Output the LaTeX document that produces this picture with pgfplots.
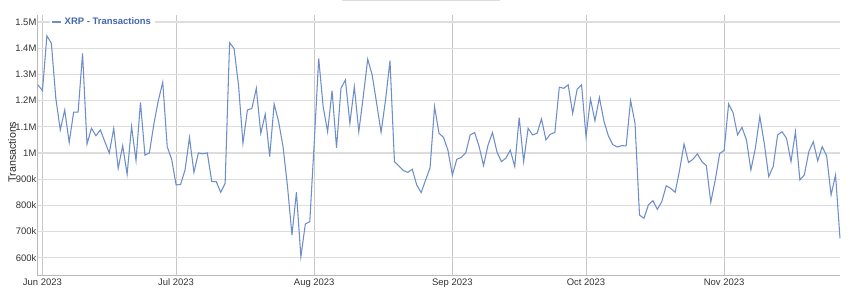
\documentclass[border=0pt]{standalone}
\usepackage{fontspec}
\setmainfont{Liberation Sans}
\usepackage{pgfplots}
\pgfplotsset{compat=1.18}
\definecolor{linecol}{RGB}{110,142,202}
\definecolor{legcol}{RGB}{66,103,178}
\definecolor{axisgray}{RGB}{185,185,185}
\definecolor{hgrid}{RGB}{221,221,221}
\definecolor{vgrid}{RGB}{200,200,200}
\begin{document}
\begin{tikzpicture}
\useasboundingbox (0,0) rectangle (637.5pt,216.75pt);
\draw[hgrid, line width=1.2pt] (256.5pt,216.3pt) -- (375pt,216.3pt);
\begin{axis}[
  at={(28.5pt,9.75pt)}, anchor=south west,
  scale only axis, width=601.5pt, height=195.75pt,
  xmin=-1, xmax=179, ymin=530500, ymax=1526700,
  axis x line*=bottom, axis y line*=left,
  axis line style={draw=axisgray, line width=0.75pt, -},
  scaled y ticks=false, scaled x ticks=false,
  xtick={0,30,61,92,122,153},
  xticklabels={Jun 2023,Jul 2023,Aug 2023,Sep 2023,Oct 2023,Nov 2023},
  ytick={600000,700000,800000,900000,1000000,1100000,1200000,1300000,1400000,1500000},
  yticklabels={600k,700k,800k,900k,1M,1.1M,1.2M,1.3M,1.4M,1.5M},
  major tick length=0pt,
  xmajorgrids, ymajorgrids,
  x grid style={vgrid, line width=0.6pt},
  y grid style={hgrid, line width=0.9pt},
  tick label style={font=\fontsize{7.1pt}{8pt}\selectfont, text=black!80},
  yticklabel style={inner sep=1pt},
  xticklabel style={inner sep=1pt, yshift=-1pt},
  ylabel={Transactions},
  ylabel style={at={(axis description cs:-0.0324,0.475)}, anchor=center, font=\fontsize{8pt}{9pt}\selectfont, text=black!85},
  legend style={at={(axis description cs:0.015,0.973)}, anchor=west, draw=none, fill=white,
    font=\bfseries\fontsize{7.1pt}{8pt}\selectfont, text=legcol, inner sep=1pt,
    legend cell align=left},
  legend image code/.code={\draw[#1] (0pt,0pt) -- (7pt,0pt);},
  clip=false,
]
\addplot[linecol, line width=0.8pt] coordinates {
(-1,1260000) (0,1238000) (1,1447000) (2,1419000) (3,1209000) (4,1088000) (5,1164000) (6,1040000) (7,1156000) (8,1156000)
(9,1380000) (10,1034000) (11,1094000) (12,1066000) (13,1088000) (14,1043000) (15,1000000) (16,1094000) (17,941000) (18,1028000)
(19,919000) (20,1101000) (21,971000) (22,1193000) (23,992000) (24,1000000) (25,1110000) (26,1200000) (27,1270000) (28,1024000)
(29,976000) (30,878000) (31,880000) (32,935000) (33,1059000) (34,926000) (35,1000000) (36,997000) (37,1000000) (38,891000)
(39,891000) (40,850000) (41,884000) (42,1421000) (43,1399000) (44,1260000) (45,1037000) (46,1164000) (47,1170000) (48,1247000)
(49,1075000) (50,1148000) (51,986000) (52,1187000) (53,1120000) (54,1024000) (55,872000) (56,687000) (57,850000) (58,604000)
(59,729000) (60,738000) (61,1040000) (62,1361000) (63,1177000) (64,1081000) (65,1238000) (66,1020000) (67,1247000) (68,1279000)
(69,1113000) (70,1253000) (71,1081000) (72,1215000) (73,1358000) (74,1298000) (75,1190000) (76,1079000) (77,1202000) (78,1352000)
(79,967000) (80,950000) (81,933000) (82,926000) (83,938000) (84,878000) (85,849000) (86,897000) (87,944000) (88,1177000)
(89,1075000) (90,1060000) (91,1011000) (92,916000) (93,976000) (94,983000) (95,1000000) (96,1069000) (97,1078000) (98,1025000)
(99,952000) (100,1030000) (101,1078000) (102,1005000) (103,967000) (104,980000) (105,1011000) (106,948000) (107,1135000) (108,967000)
(109,1094000) (110,1069000) (111,1075000) (112,1130000) (113,1050000) (114,1072000) (115,1078000) (116,1251000) (117,1247000) (118,1260000)
(119,1151000) (120,1243000) (121,1260000) (122,1062000) (123,1206000) (124,1123000) (125,1212000) (126,1123000) (127,1066000) (128,1032000)
(129,1023000) (130,1028000) (131,1027000) (132,1200000) (133,1113000) (134,763000) (135,751000) (136,802000) (137,818000) (138,785000)
(139,814000) (140,875000) (141,865000) (142,850000) (143,935000) (144,1034000) (145,964000) (146,976000) (147,997000) (148,967000)
(149,952000) (150,812000) (151,897000) (152,998000) (153,1010000) (154,1187000) (155,1154000) (156,1069000) (157,1098000) (158,1050000)
(159,935000) (160,1018000) (161,1139000) (162,1037000) (163,910000) (164,948000) (165,1069000) (166,1081000) (167,1056000) (168,967000)
(169,1081000) (170,897000) (171,916000) (172,1005000) (173,1043000) (174,970000) (175,1024000) (176,989000) (177,840000) (178,916000)
(179,674000)
};
\addlegendentry{XRP - Transactions}
\end{axis}
\end{tikzpicture}
\end{document}
